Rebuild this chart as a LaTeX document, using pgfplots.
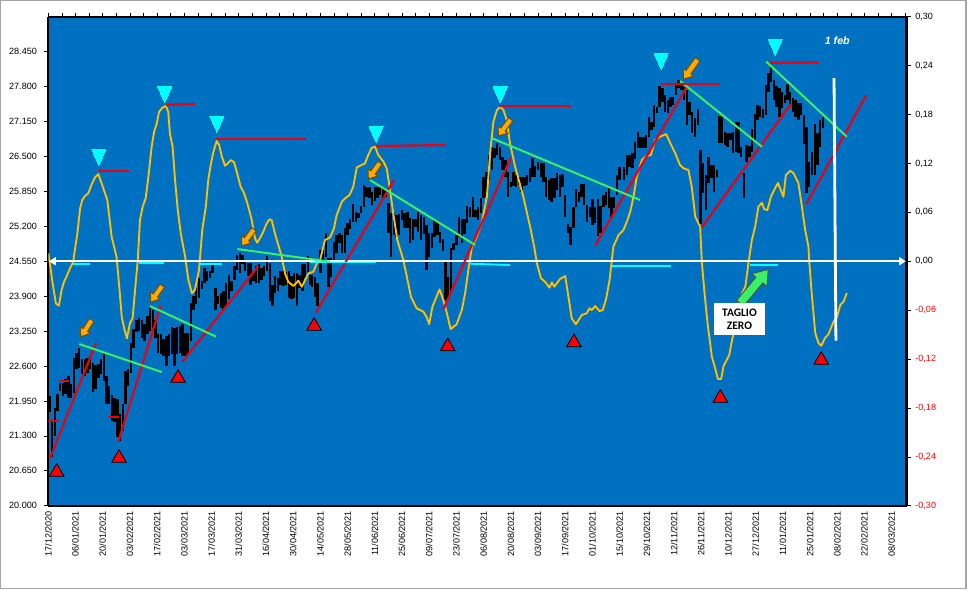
\documentclass[border=0pt]{standalone}
\usepackage{pgfplots}
\usepackage{pgfplotstable}
\usepackage{fontspec}
\pgfplotsset{compat=1.18}
\usetikzlibrary{arrows.meta}
\setmainfont{Liberation Sans}
\newfontfamily\boxfont{Carlito}

\definecolor{plotblue}{RGB}{0,112,192}
\definecolor{oscyellow}{RGB}{255,192,0}
\definecolor{trendred}{RGB}{235,0,20}
\definecolor{trendgreen}{RGB}{60,240,100}
\definecolor{arroworange}{RGB}{255,170,0}
\definecolor{framegray}{RGB}{165,165,165}
\definecolor{sigcyan}{RGB}{0,255,255}

% price bars: x, high, low
\pgfplotstableread{
x h l
0.4 22045 21745
1.4 21580 20900
2.4 21825 21300
3.4 22075 21765
4.4 22290 22135
5.4 22290 22045
6.4 22350 22075
7.4 22415 22010
8.4 22260 22000
9.4 22755 22105
10.4 22850 22540
11.4 22940 22570
12.4 22725 22445
13.4 22725 22415
14.4 22755 22475
15.4 22785 22540
16.4 22660 22125
17.4 22620 22165
18.4 22630 22385
19.4 22725 22460
20.4 22815 22320
21.4 22415 21890
22.4 22230 21890
23.4 22060 21580
24.4 22010 21550
25.4 21980 21270
26.4 21700 21205
27.4 21890 21390
28.4 22505 21890
29.4 22540 22230
30.4 23035 22475
31.4 23280 22940
32.4 23465 23240
33.4 23495 23260
34.4 23465 23125
35.4 23375 23065
36.4 23530 23190
37.4 23685 23250
38.4 23650 23310
39.4 23465 23125
40.4 23190 22845
41.4 23190 22815
42.4 23095 22785
43.4 23155 22600
44.4 23190 22785
45.4 23325 22815
46.4 23310 22600
47.4 23325 22815
48.4 23340 22845
49.4 23375 22785
50.4 23220 22785
51.4 23220 22815
52.4 23775 23065
53.4 23900 23650
54.4 24055 23745
55.4 24240 23870
56.4 24180 24025
57.4 24425 24145
58.4 24365 24180
59.4 24375 24240
60.4 24490 24335
61.4 24055 23650
62.4 23900 23745
63.4 23960 23685
64.4 23990 23650
65.4 24145 23715
66.4 24300 23840
67.4 24180 23990
68.4 24455 24210
69.4 24675 24395
70.4 24705 24335
71.4 24675 24490
72.4 24580 24365
73.4 24520 24270
74.4 24520 24115
75.4 24335 24180
76.4 24455 24145
77.4 24490 24145
78.4 24425 24210
79.4 24455 24270
80.4 24640 24365
81.4 24520 23805
82.4 24115 23715
83.4 24270 23960
84.4 24240 23990
85.4 24365 24115
86.4 24365 24085
87.4 24350 24115
88.4 24365 23870
89.4 24270 23840
90.4 24335 23870
91.4 24335 23715
92.4 24300 24055
93.4 24490 23990
94.4 24490 24240
95.4 24640 24300
96.4 24300 24115
97 24293 24076
98 24262 23890
99 24138 23716
100 24758 24337
101 24758 24541
102 25069 24634
103 24603 24076
104 24603 24262
105 24914 24572
106 25038 24696
107 25069 24882
108 25038 24696
109 25162 24696
110 25255 25038
111 25329 25143
112 25615 25286
113 25472 25286
114 25453 25348
115 25577 25441
116 25968 25565
117 25925 25751
118 25937 25720
119 25844 25596
120 25925 25676
121 25925 25720
122 25925 25782
123 25906 25720
124 25875 25751
125 25627 25069
126 25453 24622
127 25441 25038
128 25410 25007
129 25428 25038
130 25503 25317
131 25441 25162
132 25472 25162
133 25348 24882
134 25329 24945
135 25329 25193
136 25472 25100
137 25410 24945
138 25379 25056
139 25224 24386
140 25069 24634
141 25069 24789
142 25317 25007
143 25286 25038
144 25100 24882
145 24957 24746
146 24541 23828
147 24262 23828
148 24789 23952
149 24895 24758
150 25038 24851
151 25379 25007
152 25329 24882
153 25329 25056
154 25577 25255
155 25565 25366
156 25739 25379
157 25503 25366
158 25565 25317
159 25720 25441
160 26111 25720
161 26216 25751
162 26526 26061
163 26681 26247
164 26650 26464
165 26743 26526
166 26681 26433
167 26483 26247
168 26433 26123
169 26216 25739
170 26030 25937
171 26216 25949
172 26154 25925
173 26111 25968
174 26123 25844
175 26123 25949
176 26154 25968
177 26278 26030
178 26464 26123
179 26322 26123
180 26402 26247
181 26384 26123
182 26384 26030
183 26123 25751
184 26061 25689
185 26092 25658
186 26092 25720
187 26198 25875
188 26154 25739
189 26173 25925
190 25782 25379
191 25242 25069
192 25193 24851
193 25565 25162
194 25887 25565
195 25844 25658
196 25987 25751
197 25987 25596
198 25596 25286
199 25552 25366
200 25701 25224
201 25552 25255
202 25701 25019
203 25577 25069
204 25782 25565
205 25844 25596
206 25906 25534
207 25739 25348
208 25751 25534
209 26154 25782
210 26309 26061
211.7 26310 26062
212.7 26527 26155
213.7 26527 26310
214.7 26558 26279
215.7 26775 26446
216.7 26961 26651
217.7 26868 26651
218.7 26868 26651
219.7 26899 26651
220.7 27228 26868
221.7 27147 26992
222.7 27457 27054
223.7 27426 27302
224.7 27811 27414
225.7 27767 27519
226.7 27643 27333
227.7 27550 27315
228.7 27612 27426
229.7 27612 27457
230.7 27829 27643
231.7 27922 27767
232.7 27860 27736
233.7 27798 27550
234.7 27736 27085
235.7 27519 27271
236.7 27333 26930
237.7 27209 26856
238.7 27377 27085
239.7 26620 25243
240.7 26372 25813
241.7 26155 25503
242.7 26496 26000
243.7 26341 26093
244.7 26341 25844
245.7 26248 26124
246.7 27252 26744
247.7 27240 26744
248.7 26961 26713
249.7 26930 26682
250.7 26930 26806
251.7 26961 26558
252.7 27147 26589
253.7 27147 26558
254.7 26682 26496
255.7 26186 25720
256.7 26713 26403
257.7 26694 26483
258.7 27004 26589
259.7 27290 26806
260.7 27457 27178
261.7 27439 27240
262.7 27377 27209
263.7 27829 27271
264.7 28047 27705
265.7 28171 27891
266.7 27922 27550
267.7 27811 27426
268.7 27767 27240
269.7 27705 27395
270.7 27643 27488
271.7 27848 27550
272.7 27705 27426
273.7 27581 27333
274.7 27550 27240
275.7 27488 27178
276.7 27488 27271
277.7 27271 26731
278.7 27042 25813
279.7 26403 25937
280.7 26589 26155
281.7 27104 26155
282.7 26930 26341
283.7 27178 26682
284.7 27240 27023
}\bars

% oscillator on the right axis
\pgfplotstableread{
x v
0 .0097
0.6 -.0026
1.6 -.0271
2.8 -.0517
3.9 -.0546
4.9 -.0353
5.8 -.0252
6.8 -.0182
8 -.0087
9.2 -.0006
9.4 .0055
10.7 .0342
11.7 .0649
12.5 .0751
13.5 .08
14.7 .0833
16 .0947
17.2 .1029
18.4 .107
19.6 .0956
21.7 .0751
23.3 .03
25.1 .0055
26.1 -.0313
27 -.0681
27.9 -.0823
28.9 -.0946
30 -.0762
31 -.07
31.9 -.0353
32.9 .0015
33.7 .0506
34.7 .0669
35.8 .0772
36.8 .1037
38 .1405
38.9 .1589
39.9 .1692
40.7 .1834
42.1 .1888
43.2 .1904
44.1 .1834
44.7 .1569
45.7 .1405
46.6 .0996
47.6 .0628
48.7 .0342
50.3 .0055
51.5 -.0231
52.8 -.0394
53.9 -.0353
55.4 -.0108
55.8 .0055
56.6 .0383
57.9 .0669
58.8 .0996
59.7 .118
60.7 .1344
61.9 .1475
62.8 .1426
63.8 .1282
65 .1172
66 .1201
67.1 .1242
68.3 .1214
69.3 .1098
70.7 .0914
71.9 .084
73.2 .071
74.8 .0506
75.4 .0383
76 .0281
76.8 .0227
78.1 .03
79 .0362
80.3 .0465
81.3 .0514
82.1 .0506
83.3 .0342
84.2 .0239
85.8 .0055
87 -.0148
88.2 -.0252
90.1 -.0304
91.9 -.0239
93.2 -.0313
94.4 -.0231
95.6 -.0148
97.4 -.0129
98.7 -.0026
99.9 .0015
101.7 .026
103.6 .0293
105 .0404
106 .0567
107.9 .073
109.1 .0772
110.7 .0812
112.1 .0914
113.4 .1152
116.4 .1201
117.6 .1303
118.9 .1393
120.1 .1405
121.3 .1303
123.2 .1221
124.4 .114
125.6 .0874
126.8 .0588
128.3 .026
130.5 .0015
131.8 -.019
133.3 -.0436
135.4 -.0578
137.9 -.062
139.1 -.0688
140 -.0771
141.2 -.0558
143.8 -.0345
145.2 -.0476
146.5 -.0639
147.9 -.0832
150.1 -.0774
152 -.0599
153.2 -.0394
154.4 -.0108
155.7 .0178
157.5 .03
159.3 .0465
161.2 .0791
162.4 .1324
163.6 .1712
164.9 .1855
166.1 .1896
167.3 .1855
168.5 .1733
169.7 .1447
171.6 .116
174.6 .0791
177.1 .0423
178.6 .0178
179.6 -.0026
181.1 -.021
182.6 -.0252
184.2 -.0325
185.1 -.0259
186 -.0313
188.1 -.0218
190 -.0182
190.8 -.0353
192.4 -.0701
193.9 -.0774
196.1 -.066
197.9 -.0639
198.9 -.0578
199.8 -.0599
201 -.055
202.6 -.0611
203.8 -.0599
205 -.0467
206.3 -.0231
207.7 .0178
209.6 .0321
211.4 .0383
212.6 .0481
213.9 .0607
215.1 .0791
216.3 .1037
218.2 .1242
220 .1294
221.5 .1303
223 .1487
224.9 .1528
227.1 .1561
228.6 .145
230.4 .1328
232.2 .118
233.5 .114
235.3 .1119
236.5 .0914
237.8 .0546
239.6 .0423
240.2 -.0006
241.2 -.039
242.3 -.0758
243.9 -.1172
245.1 -.131
246.1 -.1445
247.3 -.1445
248.2 -.1286
250.3 -.1151
251.3 -.0967
252.5 -.0804
253.6 -.0537
255 -.039
256.2 -.0313
257.4 -.0006
258.6 .026
259.8 .0423
261 .0669
262.3 .0718
263.1 .064
264.3 .0628
265.6 .0791
266.8 .0874
268.2 .096
270.2 .0791
271.1 .1058
272.7 .111
273.9 .1082
275.7 .096
277 .0669
278.2 .0383
279.4 .0178
279.7 -.0006
280.7 -.0436
281.9 -.0881
283.1 -.1004
284.1 -.1037
285.5 -.0942
286.8 -.0893
288.6 -.0742
289.9 -.0681
291.1 -.0537
292.3 -.0497
293.5 -.039
}\osc

\pgfplotsset{
  panel/.style={
    at={(36.2pt,63.2pt)}, anchor=south west,
    scale only axis, width=643.8pt, height=366.75pt,
    xmin=0, xmax=315.5,
    tick label style={font=\fontsize{6.8}{8}\selectfont},
    axis line style={black,line width=1.8pt},
    tick style={black,line width=.5pt},
    major tick length=3pt,
    tick align=outside,
    clip=true,
  },
  price/.style={panel, ymin=20000, ymax=29100},
  redline/.style={trendred,line width=1.6pt,forget plot},
  greenline/.style={trendgreen,line width=1.5pt,forget plot},
  cyanline/.style={sigcyan,line width=1.4pt,forget plot},
}

% block arrow about its midpoint: x, y, angle, length, body, head width, head length, fill, outline (all in pt but x, y)
\newcommand{\blockarrow}[9]{%
  \begin{scope}[shift={(#1,#2)},rotate=#3,x=1pt,y=1pt]
    \filldraw[fill=#8,draw=#9,line width=.7pt,line join=miter]
      ({-#4/2},{-#5/2}) -- ({#4/2-#7},{-#5/2}) -- ({#4/2-#7},{-#6/2}) -- ({#4/2},0)
      -- ({#4/2-#7},{#6/2}) -- ({#4/2-#7},{#5/2}) -- ({-#4/2},{#5/2}) -- cycle;
  \end{scope}}

\begin{document}
\begin{tikzpicture}
\path[use as bounding box] (0,0) rectangle (726pt,442.5pt);
\draw[framegray,line width=1.1pt] (0.5pt,1.1pt) rectangle (724.6pt,442pt);

% bars on the price scale
\begin{axis}[price,
    axis background/.style={fill=plotblue},
    axis x line*=bottom, axis y line*=left,
    xtick={0,10,...,310},
    xticklabels={17/12/2020,06/01/2021,20/01/2021,03/02/2021,17/02/2021,03/03/2021,17/03/2021,31/03/2021,16/04/2021,30/04/2021,14/05/2021,28/05/2021,11/06/2021,25/06/2021,09/07/2021,23/07/2021,06/08/2021,20/08/2021,03/09/2021,17/09/2021,01/10/2021,15/10/2021,29/10/2021,12/11/2021,26/11/2021,10/12/2021,27/12/2021,11/01/2021,25/01/2021,08/02/2021,22/02/2021,08/03/2021},
    xticklabel style={rotate=90,anchor=east,xshift=2.5pt},
    major x tick style={draw=none},
    ytick={20000,20650,...,28450},
    scaled y ticks=false,
    yticklabel style={xshift=-2pt,/pgf/number format/.cd,1000 sep={.},assume math mode=true},
  ]
\addplot[draw=none,mark=none,forget plot,
    error bars/.cd,y dir=minus,y explicit,error mark=none,
    error bar style={black,line width=1.8pt}]
  table[x=x,y=h,y error expr=\thisrow{h}-\thisrow{l}] {\bars};
\end{axis}

% oscillator on the right scale
\begin{axis}[panel, ymin=-0.3, ymax=0.3,
    axis x line*=top, axis y line*=right,
    xtick={0,5,...,315}, xticklabels={},
    ytick={-0.30,-0.24,-0.18,-0.12,-0.06,0,0.06,0.12,0.18,0.24,0.30},
    yticklabels={\textcolor{red}{-0,30},\textcolor{red}{-0,24},\textcolor{red}{-0,18},\textcolor{red}{-0,12},\textcolor{red}{-0,06},{0,00},{0,06},{0,12},{0,18},{0,24},{0,30}},
  ]
\addplot[oscyellow,line width=1.4pt,line join=round,forget plot] table[x=x,y=v] {\osc};
\addplot[white,line width=1.3pt,forget plot,{Triangle[length=5pt,width=6pt]}-{Triangle[length=5pt,width=6pt]}]
  coordinates {(0.3,0) (315.2,0)};
\end{axis}

% trend lines, levels and signals on the price scale
\begin{axis}[price, hide axis]
\addplot[redline] coordinates {(0.6,20882) (17.5,23022)};
\addplot[redline] coordinates {(25.7,21191) (41.3,23722)};
\addplot[redline] coordinates {(49.3,22680) (77.2,24461)};
\addplot[redline] coordinates {(98.4,23599) (127.1,26061)};
\addplot[redline] coordinates {(145.2,23655) (170.1,26484)};
\addplot[redline] coordinates {(201.1,24852) (234.7,27798)};
\addplot[redline] coordinates {(240.2,25181) (272.9,27476)};
\addplot[redline] coordinates {(278.6,25609) (300.6,27638)};
\addplot[greenline] coordinates {(11.4,23009) (41.7,22488)};
\addplot[greenline] coordinates {(37.4,23716) (61.7,23145)};
\addplot[greenline] coordinates {(69.5,24777) (103.6,24541)};
\addplot[greenline] coordinates {(118.3,26061) (156.9,24852)};
\addplot[greenline] coordinates {(163.2,26837) (217.5,25689)};
\addplot[greenline] coordinates {(232.2,27904) (262.3,26681)};
\addplot[greenline] coordinates {(263.9,28263) (293.5,26867)};
\addplot[redline] coordinates {(18.4,26234) (29.7,26234)};
\addplot[redline] coordinates {(43.3,27463) (53.9,27476)};
\addplot[redline] coordinates {(61.7,26830) (94.6,26830)};
\addplot[redline] coordinates {(120.5,26694) (146.2,26713)};
\addplot[redline] coordinates {(165.7,27438) (192.2,27438)};
\addplot[redline] coordinates {(225.3,27853) (246.9,27853)};
\addplot[redline] coordinates {(265.3,28244) (283.3,28251)};
\addplot[redline] coordinates {(4,22321) (7.7,22321)};
\addplot[redline] coordinates {(0,21582) (3.9,21582)};
\addplot[redline] coordinates {(21.9,21656) (26,21656)};
\addplot[cyanline] coordinates {(9.2,24498) (15.3,24498)};
\addplot[cyanline] coordinates {(33.3,24517) (42.5,24517)};
\addplot[cyanline] coordinates {(55.5,24504) (63.9,24504)};
\addplot[cyanline] coordinates {(96.2,24526) (120.5,24526)};
\addplot[cyanline] coordinates {(154.8,24504) (169.7,24479)};
\addplot[cyanline] coordinates {(207.1,24461) (228.8,24461)};
\addplot[cyanline] coordinates {(258,24485) (268.2,24485)};
\addplot[white,line width=2.1pt,forget plot] coordinates {(288.8,27959) (289.5,23071)};
\addplot[only marks,forget plot,mark=triangle*,mark size=6.3pt,
    mark options={fill=red,draw=black,line width=.6pt}] coordinates {
  (3.1,20627) (26,20888) (47.7,22376) (97.7,23344)
  (146.8,22963) (193.2,23037) (247,22004) (284.1,22711)};
\addplot[sigcyan,only marks,forget plot,mark=triangle*,mark size=6.1pt,
    mark options={rotate=180,yscale=1.3,fill=sigcyan,draw=sigcyan,line width=0pt}] coordinates {
  (18.6,26536) (42.8,27699) (62,27150) (120.5,26964)
  (166.1,27699) (225.3,28322) (267.2,28583)};
\end{axis}

% callouts, placed in image pixels
\begin{scope}[x=.75pt,y=-.75pt,yshift=442.5pt]
\colorlet{arrowedge}{black!55!arroworange}
\blockarrow{86.35}{328.35}{237.4}{15}{4}{9}{6}{arroworange}{arrowedge}
\blockarrow{156.5}{293.85}{234.6}{15}{4}{9}{6}{arroworange}{arrowedge}
\blockarrow{247.85}{237.5}{233}{15.4}{4}{9}{6}{arroworange}{arrowedge}
\blockarrow{374.15}{170.85}{234.3}{15}{4}{9}{6}{arroworange}{arrowedge}
\blockarrow{504.5}{127.65}{233.4}{15.6}{4}{9}{6}{arroworange}{arrowedge}
\blockarrow{690.5}{69.3}{234.2}{18.4}{4.4}{9.5}{6.5}{arroworange}{arrowedge}
\blockarrow{754.15}{286.3}{50.2}{33}{6.8}{15}{10.5}{trendgreen}{black!70}
\fill[white] (714,303.3) rectangle (765,335);
\node[align=center,inner sep=0pt,font=\boxfont\bfseries\fontsize{8.6}{9.6}\selectfont] at (739.5,319.2) {TAGLIO\\ZERO};
\node[white,inner sep=0pt,font=\bfseries\itshape\fontsize{8}{9}\selectfont] at (837.3,41) {1 feb};
\end{scope}
\end{tikzpicture}
\end{document}
